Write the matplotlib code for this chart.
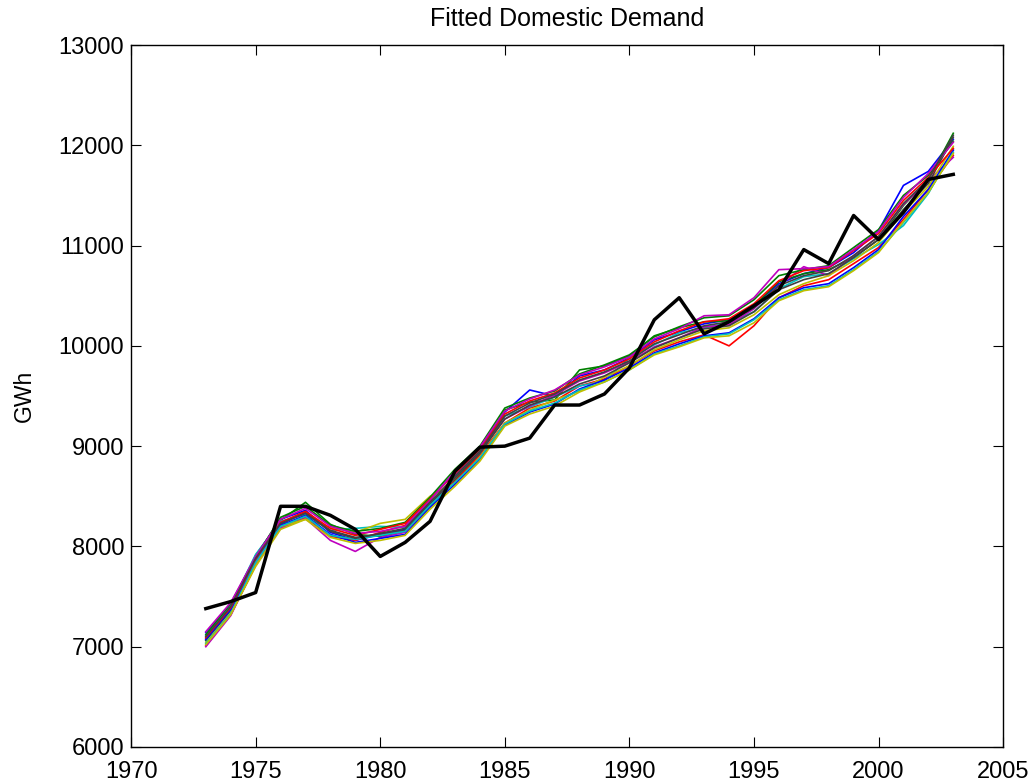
import matplotlib
matplotlib.use("Agg")
import matplotlib.pyplot as plt

years = list(range(1973, 2004))

# observed demand (GWh)
actual = [7380, 7450, 7540, 8400, 8400, 8310, 8170, 7900, 8040, 8250,
          8750, 8990, 9000, 9080, 9410, 9410, 9520, 9780, 10260, 10480,
          10120, 10240, 10400, 10560, 10960, 10820, 11300, 11060, 11330, 11660,
          11710]

# fitted runs
fit_01 = [7140, 7420, 7900, 8270, 8360, 8140, 8060, 8120, 8170, 8470, 8740, 8980, 9340, 9560, 9500, 9700,
          9760, 9880, 10060, 10140, 10220, 10260, 10400, 10620, 10720, 10780, 10930, 11150, 11600, 11740, 12060]
fit_02 = [7060, 7360, 7910, 8260, 8440, 8220, 8120, 8100, 8150, 8400, 8660, 8920, 9360, 9440, 9460, 9760,
          9800, 9900, 10100, 10180, 10240, 10250, 10400, 10640, 10720, 10760, 10880, 11060, 11400, 11660, 12120]
fit_03 = [7010, 7320, 7810, 8190, 8290, 8100, 8060, 8140, 8210, 8450, 8650, 8910, 9230, 9380, 9450, 9600,
          9670, 9800, 9950, 10040, 10110, 10000, 10200, 10480, 10600, 10660, 10820, 10980, 11260, 11560, 11900]
fit_04 = [7110, 7410, 7920, 8250, 8320, 8160, 8180, 8200, 8190, 8420, 8690, 8930, 9300, 9390, 9490, 9600,
          9650, 9880, 10010, 10130, 10180, 10230, 10340, 10570, 10690, 10720, 10870, 11010, 11200, 11520, 11960]
fit_05 = [7000, 7310, 7820, 8180, 8280, 8060, 7950, 8090, 8140, 8400, 8710, 8950, 9270, 9400, 9510, 9650,
          9730, 9840, 9990, 10080, 10190, 10210, 10370, 10600, 10790, 10700, 10900, 11090, 11410, 11650, 11880]
fit_06 = [7040, 7340, 7830, 8200, 8270, 8190, 8140, 8230, 8270, 8500, 8630, 8890, 9230, 9360, 9460, 9550,
          9690, 9800, 9960, 10060, 10150, 10180, 10310, 10510, 10620, 10700, 10850, 11030, 11330, 11590, 11990]
fit_07 = [7080, 7380, 7860, 8220, 8340, 8160, 8090, 8120, 8160, 8420, 8680, 8930, 9270, 9410, 9490, 9620,
          9700, 9830, 9980, 10080, 10170, 10200, 10340, 10560, 10660, 10720, 10880, 11060, 11360, 11620, 12080]
fit_08 = [7070, 7370, 7850, 8210, 8310, 8120, 8040, 8080, 8120, 8390, 8620, 8870, 9210, 9340, 9420, 9570,
          9660, 9780, 9930, 10020, 10100, 10130, 10270, 10480, 10580, 10620, 10780, 10960, 11290, 11560, 11950]
fit_09 = [7120, 7430, 7890, 8290, 8400, 8210, 8150, 8180, 8240, 8490, 8770, 9000, 9380, 9480, 9550, 9720,
          9810, 9910, 10090, 10190, 10280, 10300, 10460, 10700, 10760, 10800, 10980, 11160, 11500, 11700, 12040]
fit_10 = [7090, 7390, 7870, 8240, 8350, 8180, 8110, 8170, 8230, 8470, 8730, 8970, 9320, 9450, 9530, 9680,
          9760, 9870, 10040, 10150, 10240, 10270, 10420, 10650, 10750, 10780, 10950, 11120, 11450, 11680, 11970]
fit_11 = [7030, 7330, 7840, 8200, 8300, 8110, 8070, 8110, 8150, 8410, 8640, 8880, 9220, 9350, 9430, 9560,
          9640, 9760, 9920, 10000, 10090, 10120, 10260, 10460, 10560, 10600, 10760, 10940, 11230, 11530, 11930]
fit_12 = [7150, 7440, 7900, 8270, 8380, 8200, 8130, 8150, 8200, 8460, 8750, 8990, 9350, 9470, 9560, 9710,
          9790, 9890, 10070, 10170, 10300, 10310, 10480, 10760, 10770, 10790, 10960, 11140, 11480, 11720, 12030]
fit_13 = [7020, 7320, 7800, 8170, 8270, 8090, 8030, 8060, 8110, 8370, 8600, 8850, 9200, 9320, 9400, 9540,
          9640, 9760, 9910, 9990, 10080, 10100, 10230, 10450, 10550, 10590, 10750, 10930, 11240, 11530, 11920]
fit_14 = [7100, 7400, 7880, 8230, 8330, 8150, 8080, 8130, 8180, 8440, 8700, 8950, 9300, 9430, 9520, 9660,
          9740, 9850, 10020, 10110, 10200, 10240, 10380, 10600, 10700, 10750, 10900, 11090, 11420, 11660, 12100]

runs = [fit_01, fit_02, fit_03, fit_04, fit_05, fit_06, fit_07,
        fit_08, fit_09, fit_10, fit_11, fit_12, fit_13, fit_14]
# MATLAB default colour order
colors = ["#0000ff", "#008000", "#ff0000", "#00bfbf", "#bf00bf", "#bfbf00", "#404040"]

plt.rcParams["font.family"] = ["Liberation Sans", "DejaVu Sans"]

fig = plt.figure(figsize=(10.32, 7.83), dpi=100)
ax = fig.add_axes([0.127, 0.046, 0.845, 0.8965])

for i, run in enumerate(runs):
    ax.plot(years, run, color=colors[i % len(colors)], lw=1.2)
ax.plot(years, actual, color="black", lw=2.5)

ax.set_xlim(1970, 2005)
ax.set_ylim(6000, 13000)
ax.set_xticks(range(1970, 2006, 5))
ax.set_yticks(range(6000, 13001, 1000))
ax.tick_params(direction="in", length=7, width=0.8, labelsize=17,
               top=True, right=True)
ax.tick_params(axis="x", pad=10)
ax.tick_params(axis="y", pad=5)
for s in ax.spines.values():
    s.set_linewidth(1.0)
ax.set_title("Fitted Domestic Demand", fontsize=18, pad=14)
ax.set_ylabel("GWh", fontsize=16.5, labelpad=16)

fig.savefig("out.png", dpi=100)
